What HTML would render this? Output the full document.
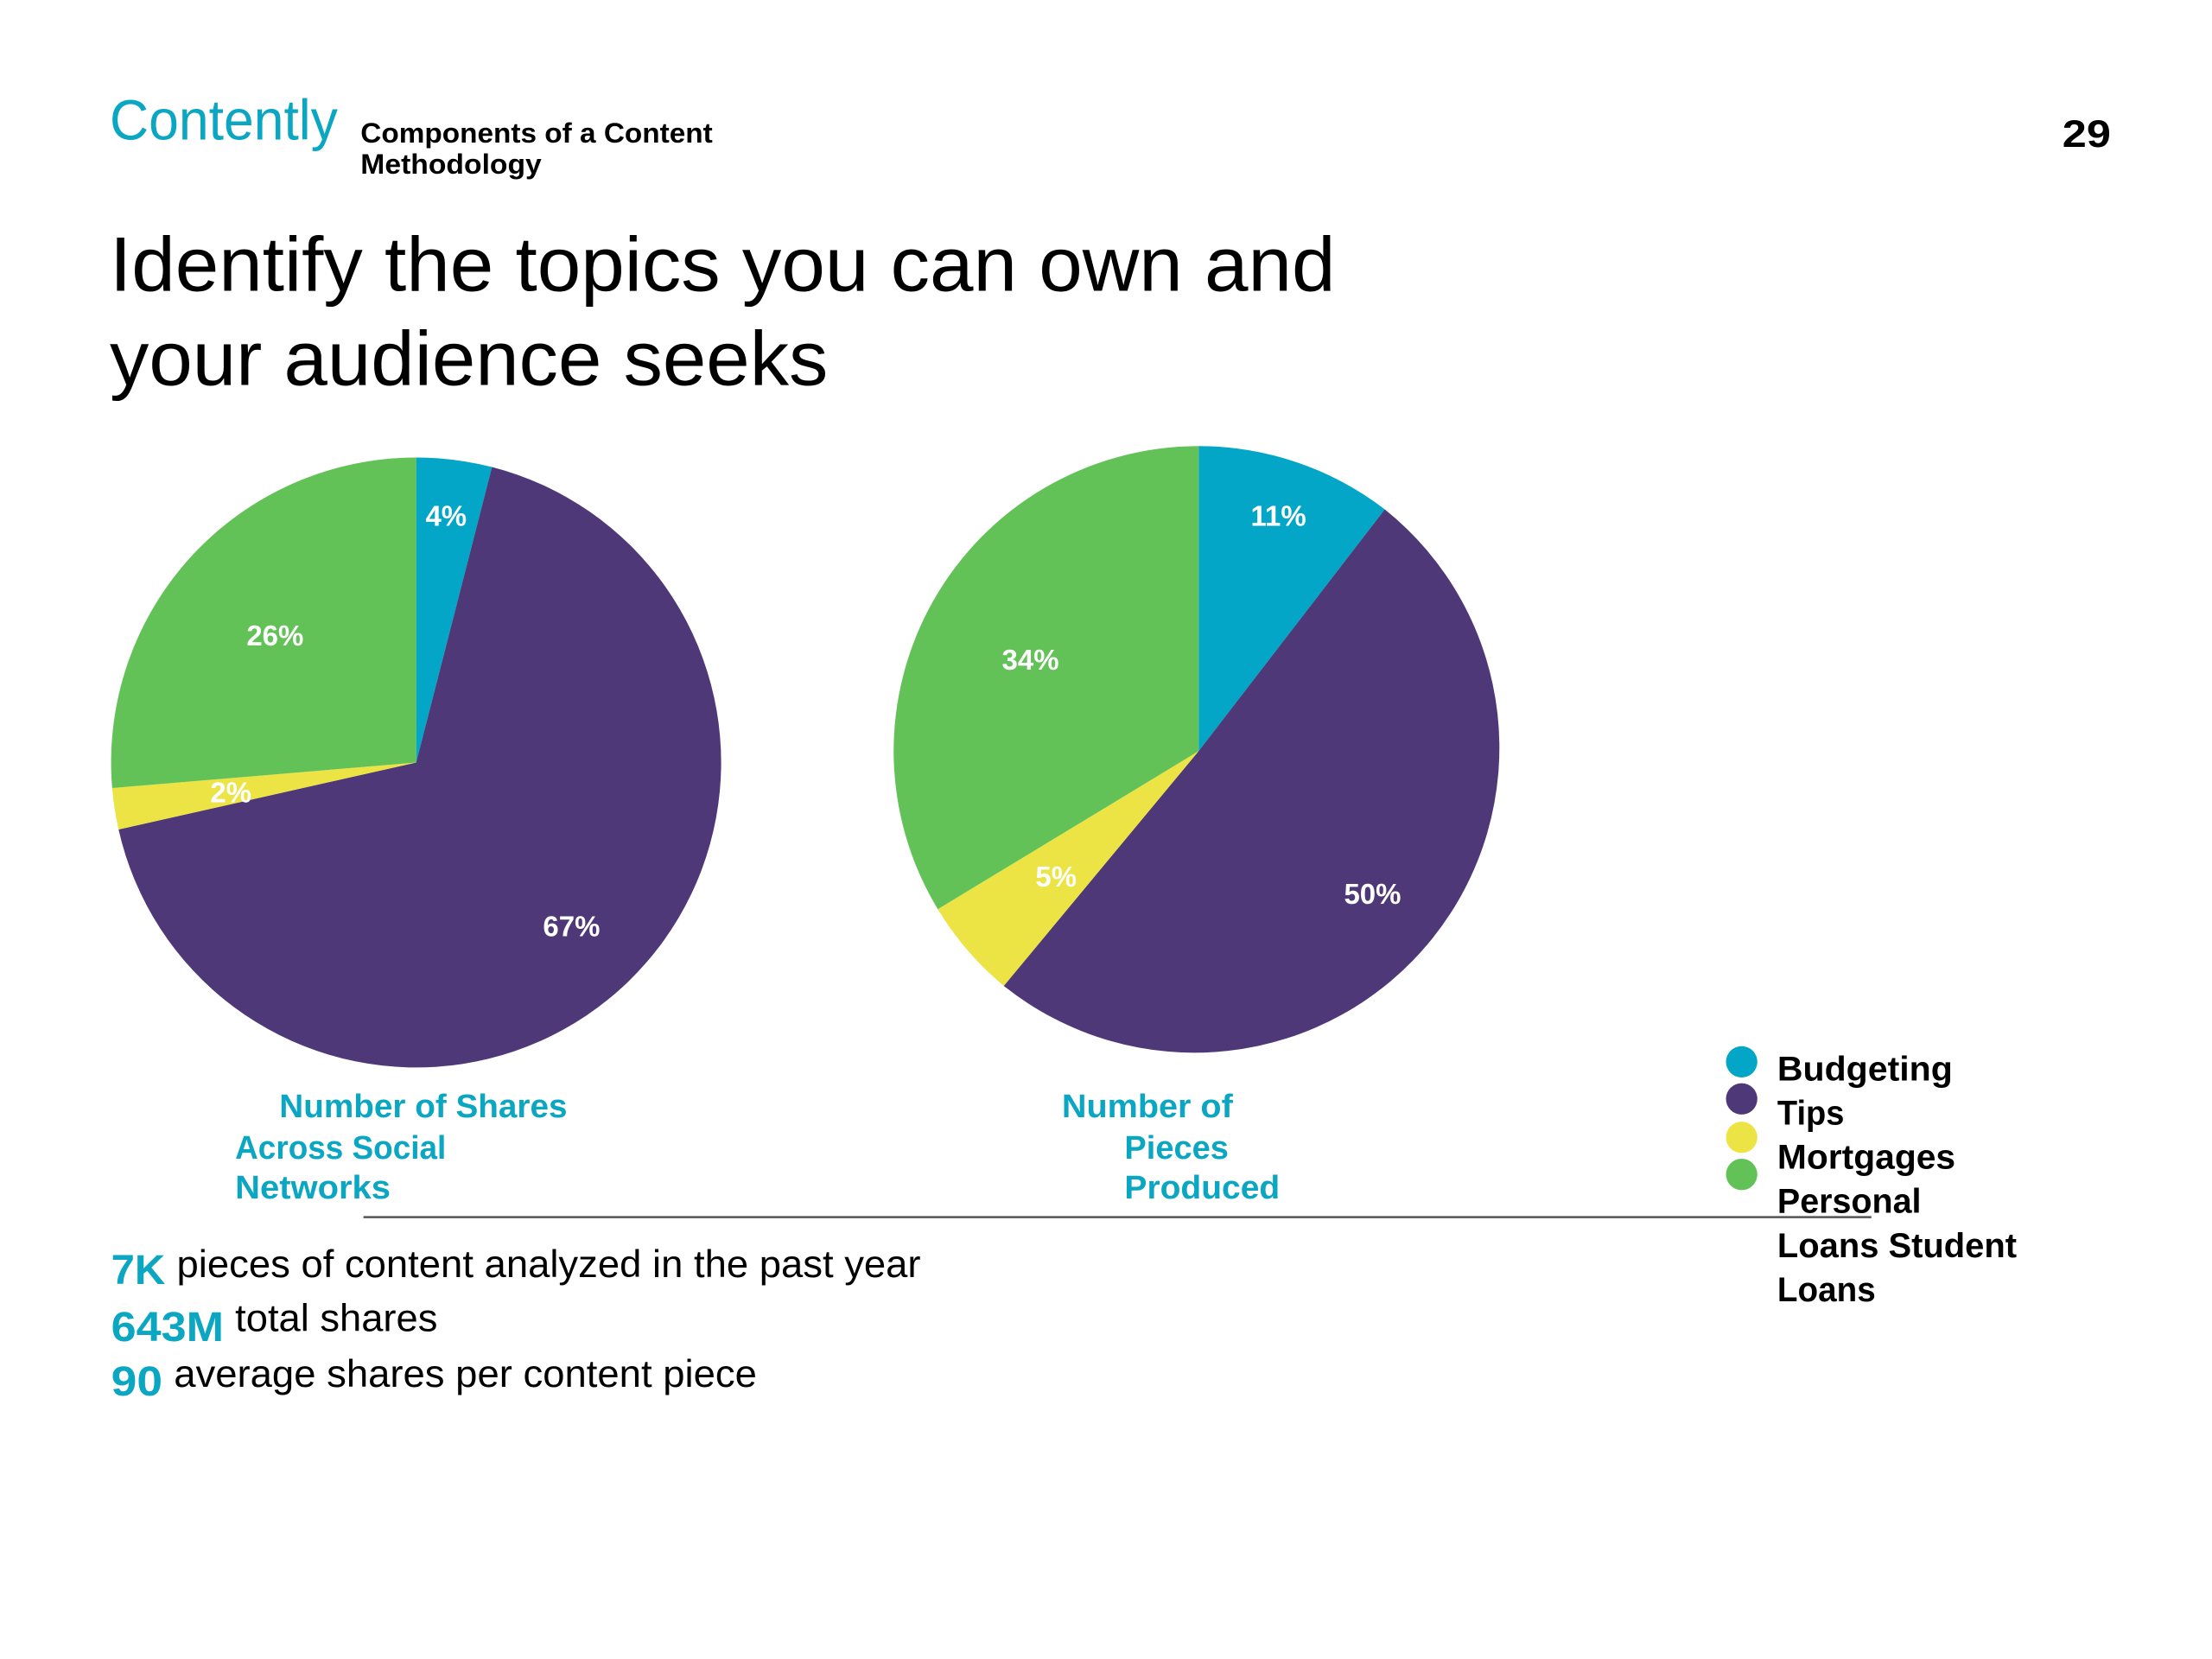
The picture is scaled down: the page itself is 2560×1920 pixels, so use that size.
<!DOCTYPE html>
<html><head><meta charset="utf-8"><style>html,body{margin:0;padding:0;background:#fff}svg{display:block}</style></head>
<body>
<svg width="2560" height="1920" viewBox="0 0 1552 1164" xmlns="http://www.w3.org/2000/svg" font-family="Liberation Sans, sans-serif">
<rect width="1552" height="1164" fill="#fff"/>
<text x="77" y="98" font-size="40" fill="#0aa6c2" textLength="160" lengthAdjust="spacingAndGlyphs">Contently</text>
<text x="253" y="100" font-size="19.5" font-weight="bold" fill="#000" textLength="247" lengthAdjust="spacingAndGlyphs">Components of a Content</text>
<text x="253" y="122" font-size="19.5" font-weight="bold" fill="#000" textLength="127" lengthAdjust="spacingAndGlyphs">Methodology</text>
<text x="1447" y="103" font-size="27" font-weight="bold" fill="#000" textLength="34" lengthAdjust="spacingAndGlyphs">29</text>
<text x="77" y="204" font-size="54" fill="#000" textLength="860" lengthAdjust="spacingAndGlyphs">Identify the topics you can own and</text>
<text x="77" y="270" font-size="54" fill="#000" textLength="504" lengthAdjust="spacingAndGlyphs">your audience seeks</text>
<!-- pie 1 -->
<path d="M292,535 L292,321 A214,214 0 0 1 345.2,327.7 Z" fill="#03a6c6"/>
<path d="M292,535 L345.2,327.7 A214,214 0 1 1 83.2,582 Z" fill="#4e3878"/>
<path d="M292,535 L83.2,582 A214,214 0 0 1 78.7,552.9 Z" fill="#ece344"/>
<path d="M292,535 L78.7,552.9 A214,214 0 0 1 292,321 Z" fill="#63c257"/>
<!-- pie 2 -->
<path d="M841,527 L841,313 A214,214 0 0 1 971.6,357.4 Z" fill="#03a6c6"/>
<path d="M841,527 L971.6,357.4 A214,214 0 1 1 704.3,691.7 Z" fill="#4e3878"/>
<path d="M841,527 L704.3,691.7 A214,214 0 0 1 658,637.9 Z" fill="#ece344"/>
<path d="M841,527 L658,637.9 A214,214 0 0 1 841,313 Z" fill="#63c257"/>
<g font-size="20" font-weight="bold" fill="#fff" text-anchor="middle">
<text x="313" y="369">4%</text><text x="193" y="453">26%</text><text x="162" y="563">2%</text><text x="401" y="657">67%</text>
<text x="897" y="369">11%</text><text x="723" y="470">34%</text><text x="741" y="622">5%</text><text x="963" y="634">50%</text>
</g>
<g font-size="23" font-weight="bold" fill="#0aa6c2">
<text x="196" y="784" textLength="202" lengthAdjust="spacingAndGlyphs">Number of Shares</text>
<text x="165" y="813" textLength="148" lengthAdjust="spacingAndGlyphs">Across Social</text>
<text x="165" y="841" textLength="109" lengthAdjust="spacingAndGlyphs">Networks</text>
<text x="745" y="784" textLength="120" lengthAdjust="spacingAndGlyphs">Number of</text>
<text x="789" y="813" textLength="73" lengthAdjust="spacingAndGlyphs">Pieces</text>
<text x="789" y="841" textLength="109" lengthAdjust="spacingAndGlyphs">Produced</text>
</g>
<line x1="255" y1="854" x2="1313" y2="854" stroke="#555" stroke-width="1.5"/>
<circle cx="1222" cy="745" r="11" fill="#03a6c6"/>
<circle cx="1222" cy="771" r="11" fill="#4e3878"/>
<circle cx="1222" cy="798" r="11" fill="#ece344"/>
<circle cx="1222" cy="824" r="11" fill="#63c257"/>
<g font-size="24" font-weight="bold" fill="#000">
<text x="1247" y="758" textLength="123" lengthAdjust="spacingAndGlyphs">Budgeting</text>
<text x="1247" y="789" textLength="47" lengthAdjust="spacingAndGlyphs">Tips</text>
<text x="1247" y="820" textLength="125" lengthAdjust="spacingAndGlyphs">Mortgages</text>
<text x="1247" y="851" textLength="101" lengthAdjust="spacingAndGlyphs">Personal</text>
<text x="1247" y="882" textLength="168" lengthAdjust="spacingAndGlyphs">Loans Student</text>
<text x="1247" y="913" textLength="69" lengthAdjust="spacingAndGlyphs">Loans</text>
</g>
<g font-size="29" font-weight="bold" fill="#0aa6c2">
<text x="78" y="901" textLength="38" lengthAdjust="spacingAndGlyphs">7K</text>
<text x="78" y="941" textLength="79" lengthAdjust="spacingAndGlyphs">643M</text>
<text x="78" y="979" textLength="36" lengthAdjust="spacingAndGlyphs">90</text>
</g>
<g font-size="27" fill="#000">
<text x="124" y="896" textLength="522" lengthAdjust="spacingAndGlyphs">pieces of content analyzed in the past year</text>
<text x="165" y="934" textLength="142" lengthAdjust="spacingAndGlyphs">total shares</text>
<text x="122" y="973" textLength="409" lengthAdjust="spacingAndGlyphs">average shares per content piece</text>
</g>
</svg>
</body></html>
